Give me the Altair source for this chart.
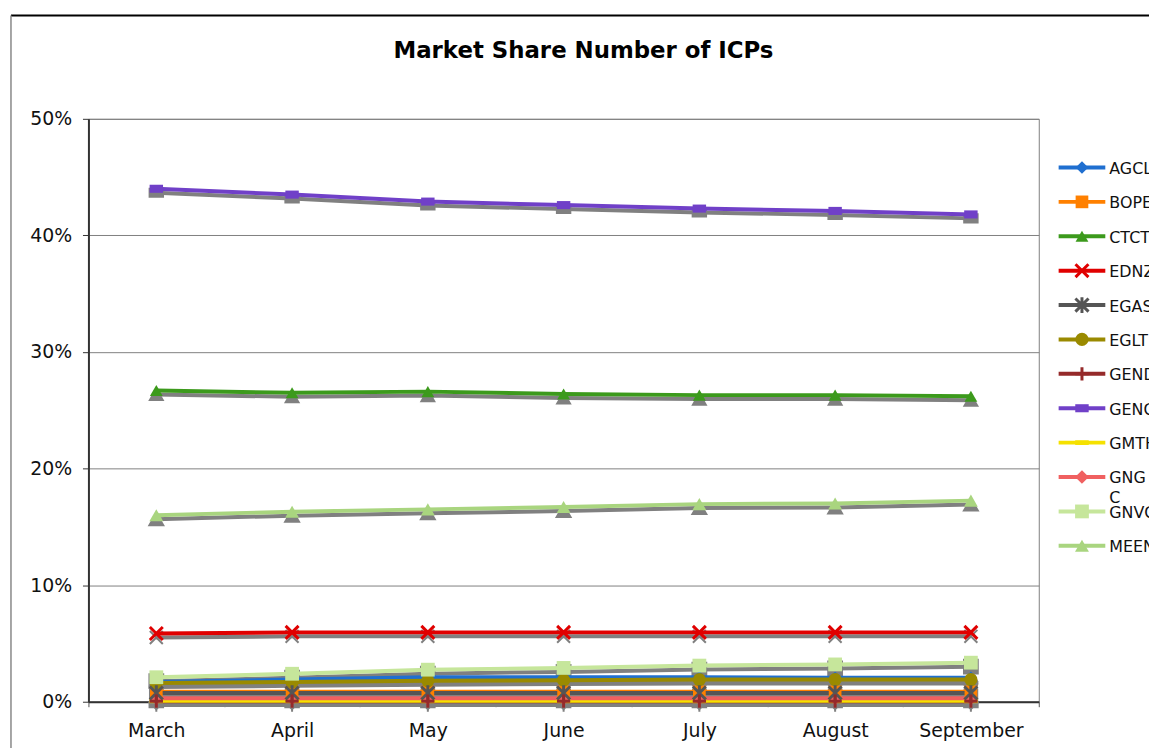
import altair as alt
import pandas as pd

months = ["March", "April", "May", "June", "July", "August", "September"]
series = ["AGCL", "BOPE", "CTCT", "EDNZ", "EGAS", "EGLT", "GEND", "GENG", "GMTH", "GNGC", "GNVC", "MEEN"]

AGCL = [1.7, 1.9, 2.1, 2.1, 2.1, 2.05, 2.05]
BOPE = [0.85, 0.85, 0.85, 0.85, 0.85, 0.85, 0.85]
CTCT = [26.7, 26.5, 26.6, 26.4, 26.3, 26.3, 26.2]
EDNZ = [5.85, 5.95, 5.95, 5.95, 5.95, 5.95, 5.95]
EGAS = [0.75, 0.75, 0.75, 0.75, 0.75, 0.75, 0.75]
EGLT = [1.6, 1.7, 1.8, 1.85, 1.9, 1.9, 1.9]
GEND = [0.05, 0.05, 0.05, 0.05, 0.05, 0.05, 0.05]
GENG = [44.0, 43.5, 42.9, 42.6, 42.3, 42.1, 41.8]
GMTH = [0.08, 0.08, 0.08, 0.08, 0.08, 0.08, 0.08]
GNGC = [0.3, 0.3, 0.3, 0.3, 0.3, 0.3, 0.3]
GNVC = [2.1, 2.4, 2.75, 2.9, 3.1, 3.2, 3.35]
MEEN = [16.0, 16.3, 16.5, 16.7, 16.95, 17.0, 17.25]

values = {"AGCL": AGCL, "BOPE": BOPE, "CTCT": CTCT, "EDNZ": EDNZ, "EGAS": EGAS, "EGLT": EGLT,
          "GEND": GEND, "GENG": GENG, "GMTH": GMTH, "GNGC": GNGC, "GNVC": GNVC, "MEEN": MEEN}

TITLE = "Market Share Number of ICPs"

colors = ["#1f6fd0", "#ff8000", "#3c9a1c", "#e00000", "#555555", "#9a8a00",
          "#952a2a", "#7040c8", "#f5e100", "#f06060", "#c6e69b", "#a9d57f"]

X_PATH = "M-1,-1L1,1M-1,1L1,-1"
STAR_PATH = "M-1,-1L1,1M-1,1L1,-1M0,-1.2L0,1.2"
PLUS_PATH = "M0,-1L0,1M-1,0L1,0"
DASH_PATH = "M-1,-0.6H1V0.6H-1Z"
BAR_PATH = "M-1,-0.35H1V0.35H-1Z"
shapes = ["diamond", "square", "triangle-up", X_PATH, STAR_PATH, "circle",
          PLUS_PATH, DASH_PATH, BAR_PATH, "diamond", "square", "triangle-up"]
sizes = [160, 196, 196, 196, 160, 144, 144, 64, 144, 180, 256, 196]
stroked = ["EDNZ", "EGAS", "GEND"]
filled = [s for s in series if s not in stroked]

rows = []
for s in series:
    for m, v in zip(months, values[s]):
        rows.append({"series": s, "month": m, "value": v})
df = pd.DataFrame(rows)

FONT = "DejaVu Sans"
color_scale = alt.Scale(domain=series, range=colors)
shape_scale = alt.Scale(domain=series, range=shapes)
size_scale = alt.Scale(domain=series, range=sizes)

color_enc = alt.Color("series:N", scale=color_scale, legend=None)
shape_enc = alt.Shape("series:N", scale=shape_scale, legend=None)
size_enc = alt.Size("series:N", scale=size_scale, legend=None)

x_enc = alt.X("month:N", sort=months,
              scale=alt.Scale(type="band", paddingInner=0, paddingOuter=0),
              axis=alt.Axis(title=None, labelFontSize=19, labelFont=FONT, labelColor="#111",
                            labelAngle=0, domainColor="#333", domainWidth=2, tickColor="#555",
                            tickSize=5, tickBand="extent", labelPadding=15, grid=False))
y_enc = alt.Y("value:Q", scale=alt.Scale(domain=[0, 50], nice=False),
              axis=alt.Axis(title=None, values=[0, 10, 20, 30, 40, 50],
                            labelExpr="datum.value + '%'", labelFontSize=19, labelFont=FONT,
                            labelColor="#111", domainColor="#333", domainWidth=2,
                            tickColor="#333", tickSize=6, labelPadding=11,
                            gridColor="#808080", gridWidth=1))

base = alt.Chart(df)

shadow_line = base.mark_line(color="#808080", strokeWidth=4, yOffset=4).encode(
    x=x_enc, y=y_enc, detail="series:N")
shadow_pts = base.mark_point(filled=True, fill="#808080", stroke="#808080", strokeWidth=2,
                             opacity=1, yOffset=4).encode(
    x=x_enc, y=y_enc, shape=shape_enc, size=size_enc)
lines = base.mark_line(strokeWidth=4).encode(x=x_enc, y=y_enc, color=color_enc)
pts_filled = base.transform_filter(
    alt.FieldOneOfPredicate(field="series", oneOf=filled)
).mark_point(filled=True, opacity=1).encode(
    x=x_enc, y=y_enc, color=color_enc, shape=shape_enc, size=size_enc)
pts_stroked = base.transform_filter(
    alt.FieldOneOfPredicate(field="series", oneOf=stroked)
).mark_point(filled=False, opacity=1, strokeWidth=3).encode(
    x=x_enc, y=y_enc, color=color_enc, shape=shape_enc, size=size_enc)

one = alt.Chart(pd.DataFrame({"title": [TITLE]}))
frame_top = one.mark_rule(color="#000", strokeWidth=2).encode(
    x=alt.value(-78), x2=alt.value(1200), y=alt.value(-104))
frame_left = one.mark_rule(color="#888", strokeWidth=1.5).encode(
    x=alt.value(-78), y=alt.value(-104), y2=alt.value(700))
title_text = one.mark_text(font=FONT, fontSize=23, fontWeight="bold", color="#000",
                           align="center", baseline="alphabetic").encode(
    x=alt.value(498.5), y=alt.value(-61), text="title:N")

main = alt.layer(frame_top, frame_left, title_text, shadow_line, shadow_pts, lines,
                 pts_filled, pts_stroked)

# legend drawn at the right of the plot area
leg_df = pd.DataFrame({"series": series})
y_leg = alt.Y("series:N", sort=series, scale=alt.Scale(type="point", padding=0, range=[49, 430]),
              axis=None)
leg_base = alt.Chart(leg_df)
leg_line = leg_base.mark_rule(strokeWidth=4).encode(
    x=alt.value(977), x2=alt.value(1024), y=y_leg, color=color_enc)
leg_filled = leg_base.transform_filter(
    alt.FieldOneOfPredicate(field="series", oneOf=filled)
).mark_point(filled=True, opacity=1).encode(
    x=alt.value(1000.5), y=y_leg, color=color_enc, shape=shape_enc, size=size_enc)
leg_stroked = leg_base.transform_filter(
    alt.FieldOneOfPredicate(field="series", oneOf=stroked)
).mark_point(filled=False, opacity=1, strokeWidth=3).encode(
    x=alt.value(1000.5), y=y_leg, color=color_enc, shape=shape_enc, size=size_enc)
leg_text = leg_base.transform_calculate(
    label="datum.series == 'GNGC' ? ['GNG', 'C'] : datum.series"
).mark_text(align="left", baseline="alphabetic", dy=6.5, font=FONT, fontSize=16,
            color="#111", lineHeight=20).encode(
    x=alt.value(1028), y=y_leg, text="label:N")

legend = alt.layer(leg_line, leg_filled, leg_stroked, leg_text)

chart = alt.layer(main, legend).resolve_scale(y="independent").properties(
    width=957, height=587,
    autosize=alt.AutoSizeParams(type="none"),
    padding={"left": 81, "top": 109, "right": 111, "bottom": 44},
    background="white",
).configure_view(stroke="#808080", strokeWidth=1)

chart.save("out.html", embed_options={"renderer": "svg", "actions": False})
